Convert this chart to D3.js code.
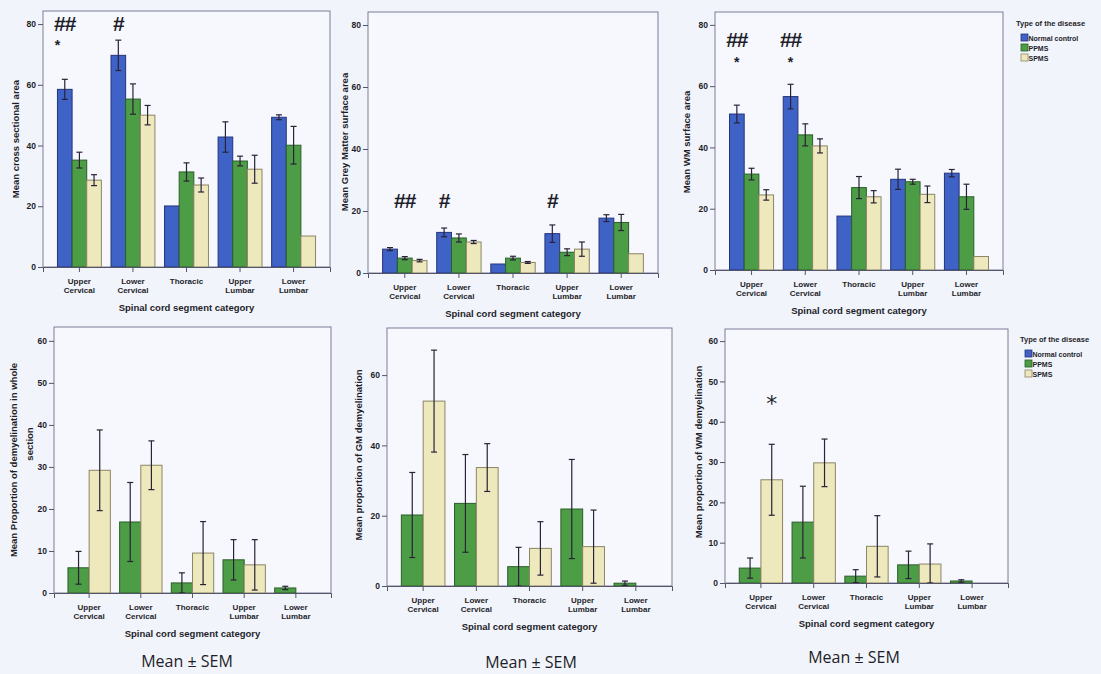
<!DOCTYPE html>
<html>
<head>
<meta charset="utf-8">
<script src="https://cdn.jsdelivr.net/npm/d3@7"></script>
<style>
  body { margin: 0; background: #f1f4fa; }
  text { font-family: "Liberation Sans", Arial, sans-serif; fill: #1e1e2a; }
</style>
</head>
<body>
<svg id="chart" width="1101" height="674"></svg>
<script>
// segment categories and disease groups
const categories = ['Upper Cervical', 'Lower Cervical', 'Thoracic', 'Upper Lumbar', 'Lower Lumbar'];
const categoryLines = [['Upper', 'Cervical'], ['Lower', 'Cervical'], ['Thoracic'], ['Upper', 'Lumbar'], ['Lower', 'Lumbar']];
const diseaseTypes = ['Normal control', 'PPMS', 'SPMS'];
const msTypes = ['PPMS', 'SPMS'];

const areaTicks = [0, 20, 40, 60, 80];
const proportionTicks = [0, 10, 20, 30, 40, 50, 60];
const gmProportionTicks = [0, 20, 40, 60];

// mean cross sectional area
const crossControl = [58.5, 69.7, 20.1, 42.8, 49.3];
const crossControlSem = [3.3, 5.0, null, 5.0, 0.8];
const crossPpms = [35.2, 55.3, 31.3, 34.9, 40.1];
const crossPpmsSem = [2.6, 5.0, 3.0, 1.6, 6.2];
const crossSpms = [28.6, 50.0, 27.0, 32.2, 10.2];
const crossSpmsSem = [1.8, 3.2, 2.3, 4.6, null];

// mean grey matter surface area
const gmControl = [7.7, 13.1, 2.9, 12.7, 17.7];
const gmControlSem = [0.5, 1.4, null, 2.8, 1.1];
const gmPpms = [4.8, 11.3, 4.8, 6.7, 16.3];
const gmPpmsSem = [0.5, 1.3, 0.6, 1.1, 2.6];
const gmSpms = [4.0, 10.0, 3.4, 7.7, 6.2];
const gmSpmsSem = [0.4, 0.5, 0.3, 2.3, null];

// mean WM surface area
const wmControl = [50.9, 56.6, 17.6, 29.6, 31.6];
const wmControlSem = [2.9, 4.0, null, 3.3, 1.2];
const wmPpms = [31.3, 44.1, 26.9, 28.8, 23.9];
const wmPpmsSem = [1.9, 3.6, 3.6, 0.8, 4.1];
const wmSpms = [24.5, 40.5, 23.9, 24.7, 4.4];
const wmSpmsSem = [1.7, 2.3, 2.0, 2.7, null];

// mean proportion of demyelination in whole section
const wholeDemPpms = [6.0, 16.9, 2.4, 7.9, 1.2];
const wholeDemPpmsSem = [3.9, 9.4, 2.4, 4.8, 0.4];
const wholeDemSpms = [29.2, 30.4, 9.5, 6.7, null];
const wholeDemSpmsSem = [9.6, 5.8, 7.5, 6.0, null];

// mean proportion of GM demyelination
const gmDemPpms = [20.2, 23.5, 5.5, 21.9, 0.8];
const gmDemPpmsSem = [12.1, 13.9, 5.5, 14.1, 0.6];
const gmDemSpms = [52.6, 33.7, 10.7, 11.2, null];
const gmDemSpmsSem = [14.5, 6.8, 7.6, 10.4, null];

// mean proportion of WM demyelination
const wmDemPpms = [3.7, 15.1, 1.7, 4.5, 0.5];
const wmDemPpmsSem = [2.5, 8.9, 1.6, 3.4, 0.3];
const wmDemSpms = [25.6, 29.8, 9.1, 4.7, null];
const wmDemSpmsSem = [8.8, 5.9, 7.6, 5.0, null];

// significance annotations (value = height on the y axis)
const crossMarks = [
  { cat: 'Upper Cervical', series: 'Normal control', value: 80.3, text: '##', kind: 'hash' },
  { cat: 'Upper Cervical', series: 'Normal control', value: 73, text: '*', kind: 'star', shift: -0.5 },
  { cat: 'Lower Cervical', series: 'Normal control', value: 80.3, text: '#', kind: 'hash' }
];
const gmMarks = [
  { cat: 'Upper Cervical', series: 'PPMS', value: 23.5, text: '##', kind: 'hash' },
  { cat: 'Lower Cervical', series: 'Normal control', value: 23.5, text: '#', kind: 'hash' },
  { cat: 'Upper Lumbar', series: 'Normal control', value: 23.5, text: '#', kind: 'hash' }
];
const wmMarks = [
  { cat: 'Upper Cervical', series: 'Normal control', value: 75.3, text: '##', kind: 'hash' },
  { cat: 'Upper Cervical', series: 'Normal control', value: 68, text: '*', kind: 'star' },
  { cat: 'Lower Cervical', series: 'Normal control', value: 75.3, text: '##', kind: 'hash' },
  { cat: 'Lower Cervical', series: 'Normal control', value: 68, text: '*', kind: 'star' }
];
const wmDemMarks = [
  { cat: 'Upper Cervical', series: 'SPMS', value: 44.5, text: '*', kind: 'bigstar' }
];

const FILL = { 'Normal control': '#3f62c6', 'PPMS': '#4c9d46', 'SPMS': '#eee8bd' };
const STROKE = { 'Normal control': '#26347a', 'PPMS': '#2c5e2a', 'SPMS': '#8c8566' };
const ERR_COLOR = '#2a2238';

const svg = d3.select('#chart');

function drawPanel(p) {
  const g = svg.append('g');

  const x = d3.scaleBand().domain(categories).range([p.left, p.right])
    .paddingInner(0.18).paddingOuter(0.27);
  const xs = d3.scaleBand().domain(p.series).range([0, x.bandwidth()]);
  const y = d3.scaleLinear().domain([0, p.yMax]).range([p.bottom, p.top]);

  // frame
  g.append('rect')
    .attr('x', p.left).attr('y', p.top)
    .attr('width', p.right - p.left).attr('height', p.bottom - p.top)
    .attr('fill', '#f6f8fd').attr('stroke', '#7c7c98').attr('stroke-width', 1);

  // bars
  const rows = [];
  p.series.forEach((s, si) => {
    categories.forEach((c, ci) => {
      if (p.means[si][ci] == null) return;
      rows.push({ s, c, mean: p.means[si][ci], sem: p.sems[si][ci] });
    });
  });

  g.selectAll('rect.bar')
    .data(rows)
    .join('rect')
    .classed('bar', true)
    .attr('x', (d) => x(d.c) + xs(d.s))
    .attr('width', xs.bandwidth())
    .attr('y', (d) => y(d.mean))
    .attr('height', (d) => y(0) - y(d.mean))
    .attr('fill', (d) => FILL[d.s])
    .attr('stroke', (d) => STROKE[d.s])
    .attr('stroke-width', 1);

  // error bars (mean +/- SEM)
  const errs = rows.filter((d) => d.sem != null);
  const ex = (d) => x(d.c) + xs(d.s) + xs.bandwidth() / 2;
  const eg = g.selectAll('g.err').data(errs).join('g').classed('err', true)
    .attr('stroke', ERR_COLOR).attr('stroke-width', 1.2);
  eg.append('line')
    .attr('x1', ex).attr('x2', ex)
    .attr('y1', (d) => y(d.mean + d.sem)).attr('y2', (d) => y(Math.max(0, d.mean - d.sem)));
  eg.append('line')
    .attr('x1', (d) => ex(d) - 3).attr('x2', (d) => ex(d) + 3)
    .attr('y1', (d) => y(d.mean + d.sem)).attr('y2', (d) => y(d.mean + d.sem));
  eg.append('line')
    .attr('x1', (d) => ex(d) - 3).attr('x2', (d) => ex(d) + 3)
    .attr('y1', (d) => y(Math.max(0, d.mean - d.sem))).attr('y2', (d) => y(Math.max(0, d.mean - d.sem)));

  // y axis
  const ya = g.append('g')
    .attr('transform', 'translate(' + p.left + ',0)')
    .call(d3.axisLeft(y).tickValues(p.ticks).tickSize(5).tickPadding(2));
  ya.select('.domain').remove();
  ya.selectAll('line').attr('stroke', '#55556a');
  ya.selectAll('text')
    .style('font-size', '8.5px').style('font-weight', 'bold')
    .style('font-family', '"Liberation Sans", Arial, sans-serif').attr('fill', '#1e1e2a');

  // x axis
  const xa = g.append('g')
    .attr('transform', 'translate(0,' + p.bottom + ')')
    .call(d3.axisBottom(x).tickSize(5).tickFormat(''));
  xa.select('.domain').attr('stroke', '#55556a');
  xa.selectAll('line').attr('stroke', '#55556a');

  categories.forEach((c, ci) => {
    const t = g.append('text')
      .attr('x', x(c) + x.bandwidth() / 2)
      .attr('y', p.bottom + 17)
      .attr('text-anchor', 'middle')
      .style('font-size', '8px').style('font-weight', 'bold');
    categoryLines[ci].forEach((line, li) => {
      t.append('tspan')
        .attr('x', x(c) + x.bandwidth() / 2)
        .attr('dy', li === 0 ? 0 : 9)
        .text(line);
    });
  });

  g.append('text')
    .attr('x', (p.left + p.right) / 2)
    .attr('y', p.bottom + 44)
    .attr('text-anchor', 'middle')
    .style('font-size', '9.5px').style('font-weight', 'bold')
    .text('Spinal cord segment category');

  // y title (rotated)
  p.yTitle.forEach((line, li) => {
    g.append('text')
      .attr('transform', 'translate(' + p.titleX[li] + ',' + p.titleY[li] + ') rotate(-90)')
      .attr('text-anchor', 'middle')
      .attr('dominant-baseline', 'middle')
      .style('font-size', '9.5px').style('font-weight', 'bold')
      .text(line);
  });

  // significance marks
  (p.marks || []).forEach((m) => {
    const cx = x(m.cat) + xs(m.series) + xs.bandwidth() * (0.5 + (m.shift || 0));
    const t = g.append('text')
      .attr('x', cx).attr('y', y(m.value))
      .attr('text-anchor', 'middle')
      .attr('dominant-baseline', 'central')
      .text(m.text);
    if (m.kind === 'hash') {
      t.style('font-size', '21px').style('font-weight', 'bold')
        .attr('fill', '#24203a').attr('letter-spacing', '-1px');
    } else if (m.kind === 'star') {
      t.style('font-size', '14px').style('font-weight', 'bold').attr('fill', '#24203a');
    } else {
      t.style('font-size', '22px').attr('fill', '#24203a')
        .style('font-family', '"DejaVu Sans", sans-serif');
    }
  });

  if (p.caption) {
    svg.append('text')
      .attr('x', p.caption[0]).attr('y', p.caption[1])
      .attr('text-anchor', 'middle')
      .style('font-family', '"Open Sans", sans-serif')
      .style('font-size', '16px').attr('fill', '#3a3a44')
      .text('Mean \u00b1 SEM');
  }
}

function drawLegend(lx, ly) {
  const g = svg.append('g').attr('transform', 'translate(' + lx + ',' + ly + ')');
  g.append('text').attr('x', 0).attr('y', 0)
    .style('font-size', '7.5px').style('font-weight', 'bold')
    .text('Type of the disease');
  diseaseTypes.forEach((s, i) => {
    g.append('rect')
      .attr('x', 5).attr('y', 8 + i * 10)
      .attr('width', 7).attr('height', 7)
      .attr('fill', FILL[s]).attr('stroke', STROKE[s]).attr('stroke-width', 0.8);
    g.append('text')
      .attr('x', 12.5).attr('y', 14.5 + i * 10)
      .style('font-size', '7px').style('font-weight', 'bold')
      .text(s);
  });
}

drawPanel({
  left: 43, right: 330, top: 11, bottom: 267, yMax: 84.3, ticks: areaTicks,
  series: diseaseTypes,
  means: [crossControl, crossPpms, crossSpms],
  sems: [crossControlSem, crossPpmsSem, crossSpmsSem],
  yTitle: ['Mean cross sectional area'], titleX: [16], titleY: [139],
  marks: crossMarks
});

drawPanel({
  left: 368, right: 658, top: 12, bottom: 273, yMax: 84.2, ticks: areaTicks,
  series: diseaseTypes,
  means: [gmControl, gmPpms, gmSpms],
  sems: [gmControlSem, gmPpmsSem, gmSpmsSem],
  yTitle: ['Mean Grey Matter surface area'], titleX: [345], titleY: [142],
  marks: gmMarks
});

drawPanel({
  left: 715, right: 1003, top: 12, bottom: 270, yMax: 84.2, ticks: areaTicks,
  series: diseaseTypes,
  means: [wmControl, wmPpms, wmSpms],
  sems: [wmControlSem, wmPpmsSem, wmSpmsSem],
  yTitle: ['Mean WM surface area'], titleX: [687], titleY: [142],
  marks: wmMarks
});

drawPanel({
  left: 54, right: 331, top: 327, bottom: 593, yMax: 63.3, ticks: proportionTicks,
  series: msTypes,
  means: [wholeDemPpms, wholeDemSpms],
  sems: [wholeDemPpmsSem, wholeDemSpmsSem],
  yTitle: ['Mean Proportion of demyelination in whole', 'section'],
  titleX: [14, 30], titleY: [460, 444],
  caption: [187, 667]
});

drawPanel({
  left: 387, right: 672, top: 328, bottom: 586, yMax: 73.4, ticks: gmProportionTicks,
  series: msTypes,
  means: [gmDemPpms, gmDemSpms],
  sems: [gmDemPpmsSem, gmDemSpmsSem],
  yTitle: ['Mean proportion of GM demyelination'], titleX: [359], titleY: [455],
  caption: [531, 668]
});

drawPanel({
  left: 725, right: 1008, top: 329, bottom: 583, yMax: 63, ticks: proportionTicks,
  series: msTypes,
  means: [wmDemPpms, wmDemSpms],
  sems: [wmDemPpmsSem, wmDemSpmsSem],
  yTitle: ['Mean proportion of WM demyelination'], titleX: [699], titleY: [452],
  marks: wmDemMarks,
  caption: [854, 663]
});

drawLegend(1016, 26);
drawLegend(1020, 342);
</script>
</body>
</html>
